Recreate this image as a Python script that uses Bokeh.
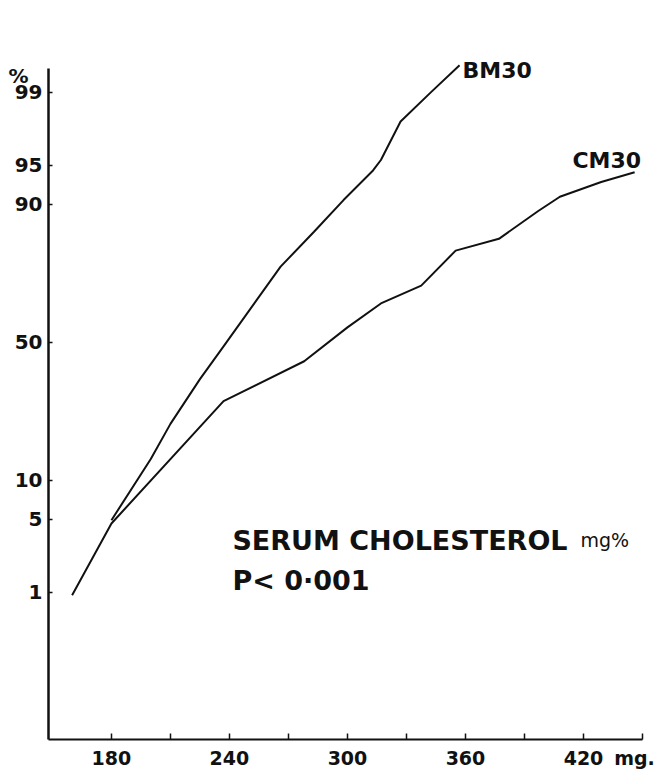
from statistics import NormalDist

from bokeh.plotting import figure
from bokeh.models import FixedTicker, Label, Range1d
from bokeh.embed import file_html
from bokeh.resources import INLINE

# ---- data ----
bm30_chol = [180, 200, 210, 225, 237, 266, 283, 298, 313, 317, 327, 342.5, 357]
bm30_pct = [4.9, 13.9, 22.4, 36.6, 48.5, 75.9, 84.8, 90.7, 94.5, 95.5, 98.0, 99.0, 99.5]

cm30_chol = [160, 180, 237, 278, 300, 317, 337.5, 355, 377, 397, 408, 429, 446]
cm30_pct = [0.93, 4.6, 29.2, 43.0, 55.5, 64.1, 70.1, 80.3, 83.2, 88.9, 91.2, 93.2, 94.3]

y_tick_pct = [1, 5, 10, 50, 90, 95, 99]
x_minor_ticks = [180, 210, 240, 270, 300, 330, 360, 390, 420, 450]
x_label_ticks = [180, 240, 300, 360, 420]

# probability (probit) scale
_nd = NormalDist()


def probit(p):
    return _nd.inv_cdf(p / 100.0)


bm30_z = [probit(p) for p in bm30_pct]
cm30_z = [probit(p) for p in cm30_pct]
y_tick_z = [probit(p) for p in y_tick_pct]

INK = "#111111"
FONT = "DejaVu Sans"

Y_LO, Y_HI, Y_TOP = -3.694, 2.546, 2.667
X_LO, X_HI = 148, 450

p = figure(
    width=659, height=771,
    x_range=Range1d(X_LO, X_HI), y_range=Range1d(Y_LO, Y_TOP),
    output_backend="svg", toolbar_location=None,
    min_border_left=48, min_border_right=17,
    min_border_top=55, min_border_bottom=29,
)
p.outline_line_color = None
p.xgrid.visible = False
p.ygrid.visible = False
p.background_fill_color = "white"
p.border_fill_color = "white"

p.line(bm30_chol, bm30_z, line_color=INK, line_width=2)
p.line(cm30_chol, cm30_z, line_color=INK, line_width=2)

# x axis: labels on major ticks (drawn without marks), marks as minor ticks
MG_POS = 445.9
xa = p.xaxis[0]
xa.bounds = (X_LO, X_HI)
xa.ticker = FixedTicker(ticks=x_label_ticks + [MG_POS], minor_ticks=x_minor_ticks)
xa.major_label_overrides = {**{t: str(t) for t in x_label_ticks}, MG_POS: "mg."}
xa.major_tick_in = 0
xa.major_tick_out = 0
xa.major_tick_line_color = None
xa.minor_tick_in = 6
xa.minor_tick_out = 0
xa.minor_tick_line_color = INK
xa.minor_tick_line_width = 1.5
xa.axis_line_width = 2
xa.axis_line_color = INK
xa.major_label_standoff = 7
xa.major_label_text_font = FONT
xa.major_label_text_font_style = "bold"
xa.major_label_text_font_size = "19px"
xa.major_label_text_color = INK

# y axis
PCT_POS = 2.481
ya = p.yaxis[0]
ya.bounds = (Y_LO, Y_HI)
ya.ticker = FixedTicker(ticks=y_tick_z + [PCT_POS], minor_ticks=y_tick_z)
ya.major_label_overrides = {**{z: str(v) for z, v in zip(y_tick_z, y_tick_pct)},
                            PCT_POS: "%\u2007"}
ya.major_tick_in = 0
ya.major_tick_out = 0
ya.major_tick_line_color = None
ya.minor_tick_in = 4
ya.minor_tick_out = 0
ya.minor_tick_line_color = INK
ya.minor_tick_line_width = 1.5
ya.axis_line_width = 2.5
ya.axis_line_color = INK
ya.major_label_standoff = 6
ya.major_label_text_font = FONT
ya.major_label_text_font_style = "bold"
ya.major_label_text_font_size = "20px"
ya.major_label_text_color = INK


def lab(x, y, text, size, style="bold", align="left", baseline="alphabetic"):
    p.add_layout(Label(x=x, y=y, text=text, text_font=FONT, text_font_size=size,
                       text_font_style=style, text_color=INK, text_align=align,
                       text_baseline=baseline))


lab(358.5, 2.528, "BM30", "22px", baseline="middle")
lab(414.4, 1.694, "CM30", "22px", baseline="middle")
lab(241.5, -1.843, "SERUM CHOLESTEROL", "27px")
lab(418.5, -1.843, "mg%", "19px", style="normal")
lab(241.5, -2.213, "P< 0·001", "27px")

open("out.html", "w").write(file_html(p, INLINE))
